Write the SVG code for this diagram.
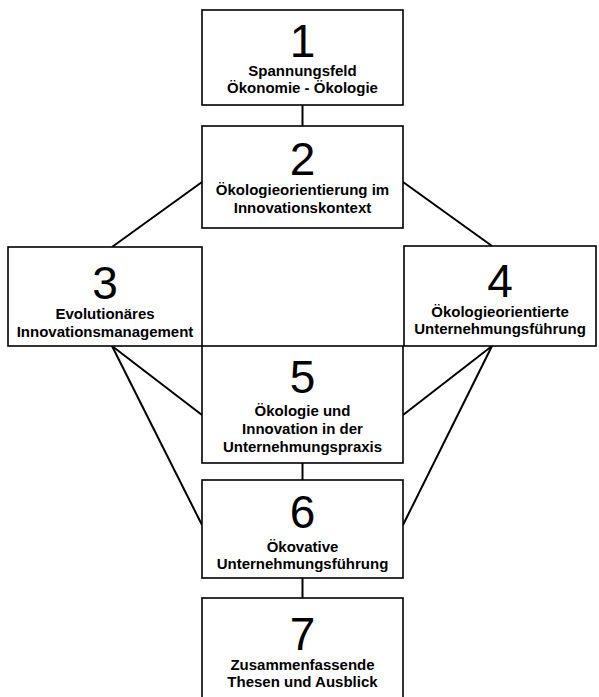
<svg xmlns="http://www.w3.org/2000/svg" width="599" height="697" viewBox="0 0 599 697">
<style>
.box{fill:#fff;stroke:#000;stroke-width:1.6}
.num{font-family:"Liberation Sans",Arial,sans-serif;font-size:46px;text-anchor:middle;fill:#000}
.lbl{font-family:"Liberation Sans",Arial,sans-serif;font-size:15px;font-weight:bold;text-anchor:middle;fill:#000}
.con{stroke:#000;stroke-width:2;fill:none}
</style>
<rect width="599" height="697" fill="#fff"/>
<g id="connectors">
<line class="con" x1="302.5" y1="105" x2="302.5" y2="126"/>
<line class="con" x1="202" y1="182" x2="112" y2="247"/>
<line class="con" x1="403" y1="182" x2="492" y2="246"/>
<line class="con" x1="112" y1="346" x2="202" y2="415"/>
<line class="con" x1="112" y1="346" x2="202" y2="525"/>
<line class="con" x1="492" y1="346" x2="403" y2="415"/>
<line class="con" x1="492" y1="346" x2="403" y2="525"/>
<line class="con" x1="302.5" y1="463" x2="302.5" y2="480"/>
<line class="con" x1="302.5" y1="578" x2="302.5" y2="598"/>
</g>
<g id="n1">
<rect class="box" x="202" y="10" width="201" height="95"/>
<text class="num" x="302.5" y="57">1</text>
<text class="lbl" x="302.5" y="76">Spannungsfeld</text>
<text class="lbl" x="302.5" y="93">Ökonomie - Ökologie</text>
</g>
<g id="n2">
<rect class="box" x="202" y="126" width="201" height="102"/>
<text class="num" x="302.5" y="175">2</text>
<text class="lbl" x="302.5" y="195">Ökologieorientierung im</text>
<text class="lbl" x="302.5" y="213">Innovationskontext</text>
</g>
<g id="n3">
<rect class="box" x="8" y="247" width="194" height="99"/>
<text class="num" x="105" y="299">3</text>
<text class="lbl" x="105" y="319">Evolutionäres</text>
<text class="lbl" x="105" y="337">Innovationsmanagement</text>
</g>
<g id="n4">
<rect class="box" x="404" y="246" width="192" height="100"/>
<text class="num" x="500" y="297">4</text>
<text class="lbl" x="500" y="317">Ökologieorientierte</text>
<text class="lbl" x="500" y="334">Unternehmungsführung</text>
</g>
<g id="n5">
<rect class="box" x="202" y="346" width="201" height="117"/>
<text class="num" x="302.5" y="393">5</text>
<text class="lbl" x="302.5" y="416">Ökologie und</text>
<text class="lbl" x="302.5" y="434">Innovation in der</text>
<text class="lbl" x="302.5" y="452">Unternehmungspraxis</text>
</g>
<g id="n6">
<rect class="box" x="202" y="480" width="201" height="98"/>
<text class="num" x="302.5" y="528">6</text>
<text class="lbl" x="302.5" y="552">Ökovative</text>
<text class="lbl" x="302.5" y="569">Unternehmungsführung</text>
</g>
<g id="n7">
<rect class="box" x="202" y="598" width="201" height="104"/>
<text class="num" x="302.5" y="650">7</text>
<text class="lbl" x="302.5" y="670">Zusammenfassende</text>
<text class="lbl" x="302.5" y="687">Thesen und Ausblick</text>
</g>
</svg>
